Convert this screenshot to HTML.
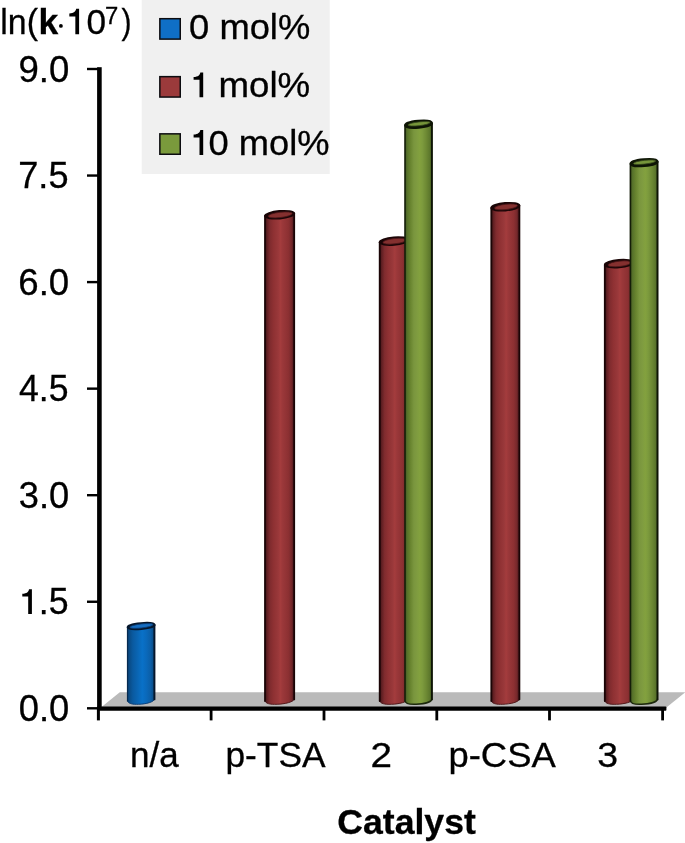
<!DOCTYPE html>
<html><head><meta charset="utf-8"><title>chart</title>
<style>
html,body{margin:0;padding:0;background:#fff;}
body{width:685px;height:843px;overflow:hidden;}
svg{display:block;will-change:transform;}
text{font-family:"Liberation Sans",sans-serif;fill:#000;stroke:#000;stroke-width:0.3px;}
</style></head><body>
<svg width="685" height="843" viewBox="0 0 685 843">
<defs>
<linearGradient id="gb" x1="0" x2="1" y1="0" y2="0">
<stop offset="0" stop-color="#07345f"/><stop offset="0.06" stop-color="#094a84"/><stop offset="0.2" stop-color="#0a5aa0"/><stop offset="0.4" stop-color="#0a67b6"/><stop offset="0.55" stop-color="#0971c8"/><stop offset="0.7" stop-color="#0a69bb"/><stop offset="0.85" stop-color="#0b5fa8"/><stop offset="0.95" stop-color="#0a4f8c"/><stop offset="1" stop-color="#062a4e"/>
</linearGradient>
<linearGradient id="gr" x1="0" x2="1" y1="0" y2="0">
<stop offset="0" stop-color="#3a1012"/><stop offset="0.07" stop-color="#5e1f22"/><stop offset="0.17" stop-color="#7f2b2e"/><stop offset="0.3" stop-color="#8f3133"/><stop offset="0.45" stop-color="#99383a"/><stop offset="0.53" stop-color="#a43c3d"/><stop offset="0.6" stop-color="#9b383a"/><stop offset="0.8" stop-color="#8c3032"/><stop offset="0.9" stop-color="#78292c"/><stop offset="1" stop-color="#45151a"/>
</linearGradient>
<linearGradient id="gg" x1="0" x2="1" y1="0" y2="0">
<stop offset="0" stop-color="#3f5520"/><stop offset="0.08" stop-color="#56712a"/><stop offset="0.2" stop-color="#68842f"/><stop offset="0.33" stop-color="#7a963e"/><stop offset="0.45" stop-color="#7f9c40"/><stop offset="0.55" stop-color="#83a13e"/><stop offset="0.65" stop-color="#7c9a3d"/><stop offset="0.8" stop-color="#6c8833"/><stop offset="0.92" stop-color="#5c772c"/><stop offset="1" stop-color="#3a4d1c"/>
</linearGradient>
</defs>
<rect width="685" height="843" fill="#ffffff"/>
<rect x="141.7" y="0" width="188" height="174" fill="#f0f0f0"/>
<polygon points="101.5,707 119.8,692.3 685.2,692.3 667.0,707" fill="#bababa"/>
<path d="M127.45,627.23 L127.45,700.50 C127.75,703.60 132.45,704.60 138.65,704.30 C146.15,704.00 153.95,702.20 154.45,698.90 L154.45,624.87 A13.50,2.90 -5.0 0 0 127.45,627.23 Z" fill="url(#gb)"/>
<path d="M127.45,700.50 C127.75,703.60 132.45,704.60 138.65,704.30 C146.15,704.00 153.95,702.20 154.45,698.90" fill="none" stroke="#0a3a70" stroke-width="0.9"/>
<path d="M127.45,627.23 L127.45,701.00" stroke="#062a50" stroke-width="1.1" stroke-linecap="round" fill="none"/>
<path d="M154.45,624.87 L154.45,699.40" stroke="#05162b" stroke-width="1.9" stroke-linecap="round" fill="none"/>
<ellipse cx="141.15" cy="626.05" rx="13.50" ry="2.90" transform="rotate(-5.0 141.15 626.05)" fill="#05162b" stroke="#05162b" stroke-width="2"/>
<ellipse cx="141.45" cy="625.95" rx="11.70" ry="2.00" transform="rotate(-6.5 141.45 625.95)" fill="#166dc0" stroke="#0b3d75" stroke-width="0.8"/>
<path d="M265.00,216.02 L265.00,700.50 C265.30,703.60 270.00,704.60 277.10,704.30 C284.60,704.00 293.70,702.20 294.20,698.90 L294.20,213.48 A14.60,3.65 -5.0 0 0 265.00,216.02 Z" fill="url(#gr)"/>
<path d="M265.00,700.50 C265.30,703.60 270.00,704.60 277.10,704.30 C284.60,704.00 293.70,702.20 294.20,698.90" fill="none" stroke="#4a1416" stroke-width="0.9"/>
<path d="M265.00,216.02 L265.00,701.00" stroke="#1a0506" stroke-width="1.8" stroke-linecap="round" fill="none"/>
<path d="M294.20,213.48 L294.20,699.40" stroke="#1a0506" stroke-width="1.8" stroke-linecap="round" fill="none"/>
<ellipse cx="279.60" cy="214.75" rx="14.60" ry="3.65" transform="rotate(-5.0 279.60 214.75)" fill="#1a0506" stroke="#1a0506" stroke-width="2"/>
<ellipse cx="280.20" cy="214.90" rx="12.10" ry="2.65" transform="rotate(-6.5 280.20 214.90)" fill="#84302f" stroke="#4d1719" stroke-width="0.8"/>
<path d="M379.70,242.29 L379.70,700.50 C380.00,703.60 384.70,704.60 391.40,704.30 C398.90,704.00 407.60,702.20 408.10,698.90 L408.10,239.81 A14.20,3.65 -5.0 0 0 379.70,242.29 Z" fill="url(#gr)"/>
<path d="M379.70,700.50 C380.00,703.60 384.70,704.60 391.40,704.30 C398.90,704.00 407.60,702.20 408.10,698.90" fill="none" stroke="#4a1416" stroke-width="0.9"/>
<path d="M379.70,242.29 L379.70,701.00" stroke="#1a0506" stroke-width="1.8" stroke-linecap="round" fill="none"/>
<path d="M408.10,239.81 L408.10,699.40" stroke="#1a0506" stroke-width="1.8" stroke-linecap="round" fill="none"/>
<ellipse cx="393.90" cy="241.05" rx="14.20" ry="3.65" transform="rotate(-5.0 393.90 241.05)" fill="#1a0506" stroke="#1a0506" stroke-width="2"/>
<ellipse cx="394.50" cy="241.20" rx="11.70" ry="2.65" transform="rotate(-6.5 394.50 241.20)" fill="#84302f" stroke="#4d1719" stroke-width="0.8"/>
<path d="M405.00,125.42 L405.00,700.50 C405.30,703.60 410.00,704.60 416.05,704.30 C423.55,704.00 431.45,702.20 431.95,698.90 L431.95,123.08 A13.47,3.40 -5.0 0 0 405.00,125.42 Z" fill="url(#gg)"/>
<path d="M405.00,700.50 C405.30,703.60 410.00,704.60 416.05,704.30 C423.55,704.00 431.45,702.20 431.95,698.90" fill="none" stroke="#1c280c" stroke-width="1.5"/>
<path d="M405.00,125.42 L405.00,701.00" stroke="#141d08" stroke-width="1.6" stroke-linecap="round" fill="none"/>
<path d="M431.95,123.08 L431.95,699.40" stroke="#0e1505" stroke-width="1.9" stroke-linecap="round" fill="none"/>
<ellipse cx="418.55" cy="124.25" rx="13.47" ry="3.40" transform="rotate(-5.0 418.55 124.25)" fill="#0e1505" stroke="#0e1505" stroke-width="2"/>
<ellipse cx="419.05" cy="123.80" rx="11.17" ry="1.90" transform="rotate(-6.5 419.05 123.80)" fill="#76953a" stroke="#33451a" stroke-width="0.8"/>
<path d="M491.30,207.97 L491.30,700.50 C491.60,703.60 496.30,704.60 502.85,704.30 C510.35,704.00 518.90,702.20 519.40,698.90 L519.40,205.53 A14.05,3.65 -5.0 0 0 491.30,207.97 Z" fill="url(#gr)"/>
<path d="M491.30,700.50 C491.60,703.60 496.30,704.60 502.85,704.30 C510.35,704.00 518.90,702.20 519.40,698.90" fill="none" stroke="#4a1416" stroke-width="0.9"/>
<path d="M491.30,207.97 L491.30,701.00" stroke="#1a0506" stroke-width="1.8" stroke-linecap="round" fill="none"/>
<path d="M519.40,205.53 L519.40,699.40" stroke="#1a0506" stroke-width="1.8" stroke-linecap="round" fill="none"/>
<ellipse cx="505.35" cy="206.75" rx="14.05" ry="3.65" transform="rotate(-5.0 505.35 206.75)" fill="#1a0506" stroke="#1a0506" stroke-width="2"/>
<ellipse cx="505.95" cy="206.90" rx="11.55" ry="2.65" transform="rotate(-6.5 505.95 206.90)" fill="#84302f" stroke="#4d1719" stroke-width="0.8"/>
<path d="M604.80,264.89 L604.80,700.50 C605.10,703.60 609.80,704.60 616.55,704.30 C624.05,704.00 632.80,702.20 633.30,698.90 L633.30,262.41 A14.25,3.65 -5.0 0 0 604.80,264.89 Z" fill="url(#gr)"/>
<path d="M604.80,700.50 C605.10,703.60 609.80,704.60 616.55,704.30 C624.05,704.00 632.80,702.20 633.30,698.90" fill="none" stroke="#4a1416" stroke-width="0.9"/>
<path d="M604.80,264.89 L604.80,701.00" stroke="#1a0506" stroke-width="1.8" stroke-linecap="round" fill="none"/>
<path d="M633.30,262.41 L633.30,699.40" stroke="#1a0506" stroke-width="1.8" stroke-linecap="round" fill="none"/>
<ellipse cx="619.05" cy="263.65" rx="14.25" ry="3.65" transform="rotate(-5.0 619.05 263.65)" fill="#1a0506" stroke="#1a0506" stroke-width="2"/>
<ellipse cx="619.65" cy="263.80" rx="11.75" ry="2.65" transform="rotate(-6.5 619.65 263.80)" fill="#84302f" stroke="#4d1719" stroke-width="0.8"/>
<path d="M630.40,163.83 L630.40,700.50 C630.70,703.60 635.40,704.60 641.55,704.30 C649.05,704.00 657.05,702.20 657.55,698.90 L657.55,161.47 A13.57,3.40 -5.0 0 0 630.40,163.83 Z" fill="url(#gg)"/>
<path d="M630.40,700.50 C630.70,703.60 635.40,704.60 641.55,704.30 C649.05,704.00 657.05,702.20 657.55,698.90" fill="none" stroke="#1c280c" stroke-width="1.5"/>
<path d="M630.40,163.83 L630.40,701.00" stroke="#141d08" stroke-width="1.6" stroke-linecap="round" fill="none"/>
<path d="M657.55,161.47 L657.55,699.40" stroke="#0e1505" stroke-width="1.9" stroke-linecap="round" fill="none"/>
<ellipse cx="644.05" cy="162.65" rx="13.57" ry="3.40" transform="rotate(-5.0 644.05 162.65)" fill="#0e1505" stroke="#0e1505" stroke-width="2"/>
<ellipse cx="644.55" cy="162.20" rx="11.27" ry="1.90" transform="rotate(-6.5 644.55 162.20)" fill="#76953a" stroke="#33451a" stroke-width="0.8"/>
<rect x="97.1" y="67.2" width="4.6" height="641" fill="#000"/>
<rect x="97" y="706.5" width="569.4" height="4.2" rx="0.8" fill="#000"/>
<rect x="87" y="67.80" width="12" height="2.4" fill="#000"/>
<rect x="87" y="174.35" width="12" height="2.4" fill="#000"/>
<rect x="87" y="280.90" width="12" height="2.4" fill="#000"/>
<rect x="87" y="387.45" width="12" height="2.4" fill="#000"/>
<rect x="87" y="494.00" width="12" height="2.4" fill="#000"/>
<rect x="87" y="600.55" width="12" height="2.4" fill="#000"/>
<rect x="87" y="707.10" width="12" height="2.4" fill="#000"/>
<rect x="96.9" y="708" width="3.0" height="12.4" fill="#000"/>
<rect x="209.70" y="708" width="2.8" height="12.4" fill="#000"/>
<rect x="322.60" y="708" width="2.8" height="12.4" fill="#000"/>
<rect x="435.40" y="708" width="2.8" height="12.4" fill="#000"/>
<rect x="548.10" y="708" width="2.8" height="12.4" fill="#000"/>
<rect x="661.20" y="708" width="2.8" height="12.4" fill="#000"/>
<text x="18.41" y="81.55" font-size="36.0" textLength="50.81" lengthAdjust="spacingAndGlyphs">9.0</text>
<text x="18.25" y="188.05" font-size="36.0" textLength="50.25" lengthAdjust="spacingAndGlyphs">7.5</text>
<text x="18.32" y="294.55" font-size="36.0" textLength="50.91" lengthAdjust="spacingAndGlyphs">6.0</text>
<text x="18.95" y="401.05" font-size="36.0" textLength="49.53" lengthAdjust="spacingAndGlyphs">4.5</text>
<text x="18.79" y="507.55" font-size="36.0" textLength="50.43" lengthAdjust="spacingAndGlyphs">3.0</text>
<path d="M31.90,614.05 L31.90,589.15 L29.00,589.15 C28.60,591.75 26.90,593.35 22.30,593.75 L22.30,596.55 L28.20,596.55 L28.20,614.05 Z" fill="#000"/>
<text x="38.75" y="614.05" font-size="36.0" textLength="29.79" lengthAdjust="spacingAndGlyphs">.5</text>
<text x="18.70" y="720.55" font-size="36.0" textLength="50.52" lengthAdjust="spacingAndGlyphs">0.0</text>
<text x="0.37" y="34.10" font-size="35.0" textLength="37.58" lengthAdjust="spacingAndGlyphs">ln(</text>
<text x="38.47" y="34.10" font-size="35.0" font-weight="bold" textLength="19.74" lengthAdjust="spacingAndGlyphs">k</text>
<circle cx="60.9" cy="25.9" r="1.9" fill="#000"/>
<path d="M79.10,34.20 L79.10,8.87 L76.15,8.87 C75.74,11.51 74.01,13.14 69.33,13.55 L69.33,16.39 L75.34,16.39 L75.34,34.20 Z" fill="#000"/>
<text x="86.44" y="34.10" font-size="35.0" textLength="19.57" lengthAdjust="spacingAndGlyphs">0</text>
<text x="104.90" y="23.80" font-size="24.6" textLength="13.27" lengthAdjust="spacingAndGlyphs">7</text>
<text x="121.52" y="34.10" font-size="35.0" textLength="10.02" lengthAdjust="spacingAndGlyphs">)</text>
<rect x="159.85" y="18.7" width="20.4" height="20.4" fill="#0f6fc6" stroke="#0c0c10" stroke-width="1.5"/>
<text x="189.10" y="39.40" font-size="34.8" textLength="121.10" lengthAdjust="spacingAndGlyphs">0 mol%</text>
<rect x="159.85" y="76.65" width="20.4" height="20.4" fill="#9b3a3b" stroke="#0c0c10" stroke-width="1.5"/>
<path d="M203.20,97.30 L203.20,72.40 L200.30,72.40 C199.90,75.00 198.20,76.60 193.60,77.00 L193.60,79.80 L199.50,79.80 L199.50,97.30 Z" fill="#000"/>
<text x="218.48" y="97.30" font-size="34.8" textLength="91.68" lengthAdjust="spacingAndGlyphs">mol%</text>
<rect x="159.85" y="133.85" width="20.4" height="20.4" fill="#7a9a3c" stroke="#0c0c10" stroke-width="1.5"/>
<path d="M203.20,154.90 L203.20,130.00 L200.30,130.00 C199.90,132.60 198.20,134.20 193.60,134.60 L193.60,137.40 L199.50,137.40 L199.50,154.90 Z" fill="#000"/>
<text x="208.60" y="154.90" font-size="34.8" textLength="120.89" lengthAdjust="spacingAndGlyphs">0 mol%</text>
<text x="129.99" y="766.50" font-size="35.3" textLength="48.67" lengthAdjust="spacingAndGlyphs">n/a</text>
<text x="225.46" y="766.50" font-size="35.3" textLength="100.05" lengthAdjust="spacingAndGlyphs">p-TSA</text>
<text x="370.42" y="766.60" font-size="35.3" textLength="21.51" lengthAdjust="spacingAndGlyphs">2</text>
<text x="448.48" y="766.50" font-size="35.3" textLength="107.27" lengthAdjust="spacingAndGlyphs">p-CSA</text>
<text x="597.24" y="766.60" font-size="35.3" textLength="20.84" lengthAdjust="spacingAndGlyphs">3</text>
<text x="337.33" y="833.50" font-size="34.9" font-weight="bold" textLength="138.50" lengthAdjust="spacingAndGlyphs">Catalyst</text>
</svg>
</body></html>
